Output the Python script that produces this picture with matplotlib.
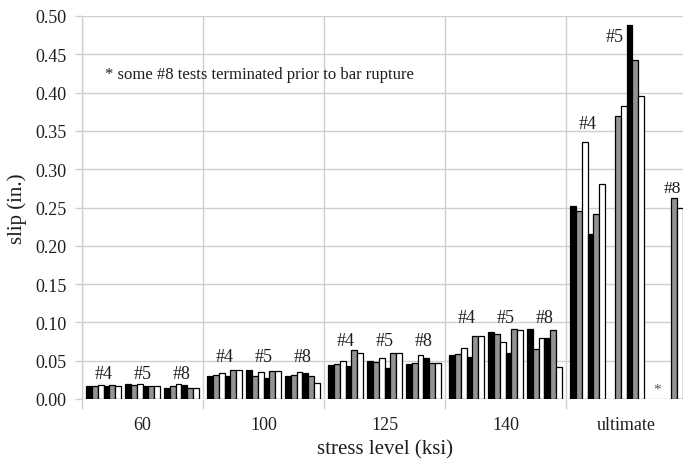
import numpy as np
import matplotlib
matplotlib.use("Agg")
import matplotlib.pyplot as plt

plt.rcParams["font.family"] = ["Liberation Serif", "DejaVu Serif"]

# Stress levels on the x axis
levels = ["60", "100", "125", "140", "ultimate"]
bar_sizes = ["#4", "#5", "#8"]

# Slip (in.) for each stress level: six tests per bar size,
# ordered black, grey, white, black, grey, white. NaN = no result.
nan = np.nan
slip_no4 = [
    [0.0165, 0.0175, 0.018, 0.017, 0.0187, 0.017],
    [0.0296, 0.0317, 0.0343, 0.0296, 0.038, 0.038],
    [0.0443, 0.0457, 0.050, 0.043, 0.064, 0.060],
    [0.058, 0.0587, 0.066, 0.055, 0.082, 0.082],
    [0.252, 0.245, 0.335, 0.215, 0.2415, 0.281],
]
slip_no5 = [
    [0.0196, 0.0187, 0.0196, 0.0165, 0.0165, 0.0165],
    [0.0374, 0.0296, 0.0348, 0.0274, 0.037, 0.037],
    [0.049, 0.0487, 0.054, 0.040, 0.060, 0.0596],
    [0.087, 0.085, 0.074, 0.060, 0.091, 0.090],
    [nan, 0.369, 0.382, 0.488, 0.443, 0.395],
]
slip_no8 = [
    [0.015, 0.0165, 0.0196, 0.0187, 0.014, 0.014],
    [0.0304, 0.0317, 0.0357, 0.034, 0.0296, 0.021],
    [0.046, 0.047, 0.058, 0.0535, 0.0465, 0.047],
    [0.091, 0.065, 0.080, 0.079, 0.090, 0.042],
    [nan, nan, nan, nan, 0.263, 0.249],
]
series = [slip_no4, slip_no5, slip_no8]
bar_fills = ["#000000", "#939393", "#ffffff"] * 2

W, H = 683, 464
fig = plt.figure(figsize=(W / 100, H / 100), dpi=100)
ax = fig.add_axes([82 / W, 1 - 400 / H, 605 / W, 383 / H])

grid_c = "#cfcfcf"
txt_c = "#1e1e1e"

bar_w = 0.048
margin = 0.035
gap = 0.033
sub_w = 6 * bar_w

for li in range(len(levels)):
    for si, data in enumerate(series):
        start = li + margin + si * (sub_w + gap)
        xs = start + bar_w * (np.arange(6) + 0.5)
        vals = np.array(data[li], dtype=float)
        ok = ~np.isnan(vals)
        ax.bar(xs[ok], vals[ok], width=bar_w,
               color=[bar_fills[k] for k in range(6) if ok[k]],
               edgecolor="#000000", linewidth=0.9, zorder=3)

# Bar-size labels above each group of tests
lab_fs = 13
label_y = [0.022, 0.045, 0.065, 0.095]
for li in range(4):
    for si, name in enumerate(bar_sizes):
        cx = li + margin + si * (sub_w + gap) + sub_w / 2
        ax.text(cx, label_y[li], name, ha="center", va="bottom",
                fontsize=lab_fs, color=txt_c, zorder=4)
ult = 4
ax.text(ult + margin + sub_w / 2, 0.349, "#4", ha="center", va="bottom",
        fontsize=lab_fs, color=txt_c, zorder=4)
ax.text(ult + margin + (sub_w + gap) + bar_w, 0.462, "#5", ha="center",
        va="bottom", fontsize=lab_fs, color=txt_c, zorder=4)
# the last label is pushed against the right edge of the figure
ax.text(0.997, 1 - 197 / H, "#8", transform=fig.transFigure,
        ha="right", va="bottom", fontsize=12.5, color=txt_c, zorder=4)
ax.text(ult + margin + 2 * (sub_w + gap) + 1.5 * bar_w, 0.004, "*",
        ha="center", va="bottom", fontsize=11, color="#555555", zorder=4)

ax.text(0.19, 0.424, "* some #8 tests terminated prior to bar rupture",
        ha="left", va="center", fontsize=12, color=txt_c, zorder=4)

ax.set_xlim(0, len(levels))
ax.set_ylim(0, 0.5)
ax.set_yticks(np.arange(0, 0.501, 0.05))
ax.set_yticklabels([f"{v:.2f}" for v in np.arange(0, 0.501, 0.05)])
ax.set_xticks(np.arange(0, len(levels) + 1))
ax.set_xticklabels([])
ax.set_xticks(np.arange(len(levels)) + 0.5, minor=True)
ax.set_xticklabels(levels, minor=True)

ax.tick_params(axis="y", which="major", length=5, color=grid_c, width=1,
               labelsize=13, labelcolor=txt_c, pad=6)
ax.tick_params(axis="x", which="major", length=7, color=grid_c, width=1)
ax.tick_params(axis="x", which="minor", length=0, labelsize=13,
               labelcolor=txt_c, pad=12)

ax.grid(True, axis="both", which="major", color=grid_c, linewidth=1, zorder=0)
for side in ["top", "right", "bottom"]:
    ax.spines[side].set_visible(False)
ax.spines["left"].set_color(grid_c)
ax.spines["left"].set_linewidth(1)

ax.set_ylabel("slip (in.)", fontsize=15, color=txt_c, labelpad=6)
ax.set_xlabel("stress level (ksi)", fontsize=15, color=txt_c, labelpad=5)

fig.savefig("out.png", dpi=100)
